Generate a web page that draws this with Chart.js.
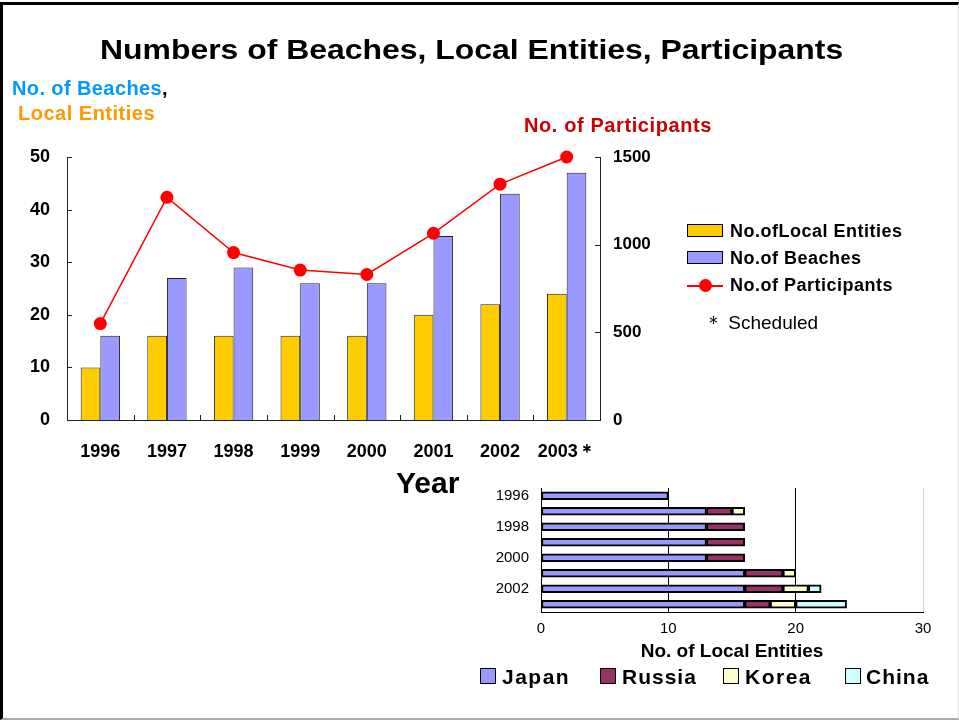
<!DOCTYPE html>
<html>
<head>
<meta charset="utf-8">
<script src="https://cdn.jsdelivr.net/npm/chart.js@4.4.1/dist/chart.umd.min.js"></script>
<style>
  body { margin: 0; background: #fff; font-family: "Liberation Sans", Arial, sans-serif; }
  #frame { position: absolute; left: 0; top: 2px; width: 955px; height: 713px;
           border-left: 3px solid #000; border-top: 3px solid #000;
           border-right: 1px solid #ddd; border-bottom: 2px solid #aaa; }
  .txt { position: absolute; white-space: nowrap; font-weight: bold; line-height: 1; }
  canvas { position: absolute; }
  .box { position: absolute; border: 1px solid #000; }
</style>
</head>
<body>
<div id="frame"></div>
<canvas id="main" width="959" height="480" style="left:0;top:0"></canvas>
<canvas id="inset" width="480" height="190" style="left:470px;top:475px"></canvas>

<div class="txt" style="left:100px;top:36px;font-size:28px;transform:scaleX(1.14);transform-origin:left top">Numbers of Beaches, Local Entities, Participants</div>
<div class="txt" style="left:12px;top:78px;font-size:20px;letter-spacing:0.4px"><span style="color:#0099ff">No. of Beaches</span>,</div>
<div class="txt" style="left:18px;top:103px;font-size:20px;letter-spacing:0.5px;color:#ff9900">Local Entities</div>
<div class="txt" style="left:524px;top:115px;font-size:20px;letter-spacing:0.6px;color:#cc0000">No. of Participants</div>
<div class="txt" style="left:396px;top:468px;font-size:30px">Year</div>

<!-- legend, main chart -->
<div class="box" style="left:687px;top:224px;width:34px;height:11px;background:#ffcc00"></div>
<div class="txt" style="left:730px;top:222px;font-size:18px;letter-spacing:0.5px">No.ofLocal Entities</div>
<div class="box" style="left:687px;top:251px;width:34px;height:11px;background:#9999ff"></div>
<div class="txt" style="left:730px;top:249px;font-size:18px;letter-spacing:0.5px">No.of Beaches</div>
<div style="position:absolute;left:687px;top:285px;width:36px;height:1.5px;background:#ff0000"></div>
<div style="position:absolute;left:699px;top:279px;width:13px;height:13px;border-radius:50%;background:#ff0000"></div>
<div class="txt" style="left:730px;top:276px;font-size:18px;letter-spacing:0.5px">No.of Participants</div>
<div class="txt" style="left:704px;top:313px;font-size:19px;font-weight:normal">＊ Scheduled</div>

<!-- legend, inset -->
<div class="box" style="left:480px;top:668px;width:14px;height:14px;background:#9999ff"></div>
<div class="txt" style="left:502px;top:666px;font-size:21px;letter-spacing:1.5px">Japan</div>
<div class="box" style="left:600px;top:668px;width:14px;height:14px;background:#993366"></div>
<div class="txt" style="left:622px;top:666px;font-size:21px;letter-spacing:1px">Russia</div>
<div class="box" style="left:723px;top:668px;width:14px;height:14px;background:#ffffcc"></div>
<div class="txt" style="left:745px;top:666px;font-size:21px;letter-spacing:1.5px">Korea</div>
<div class="box" style="left:845px;top:668px;width:14px;height:14px;background:#ccffff"></div>
<div class="txt" style="left:866px;top:666px;font-size:21px;letter-spacing:1px">China</div>

<script>
const years = ["1996", "1997", "1998", "1999", "2000", "2001", "2002", "2003＊"];
const localEntities = [10, 16, 16, 16, 16, 20, 22, 24];
const beaches = [16, 27, 29, 26, 26, 35, 43, 47];
const participants = [550, 1270, 955, 855, 830, 1065, 1345, 1500];

const insetYears = ["1996", "1997", "1998", "1999", "2000", "2001", "2002", "2003"];
const japan  = [10, 13, 13, 13, 13, 16, 16, 16];
const russia = [null, 2, 3, 3, 3, 3, 3, 2];
const korea  = [null, 1, null, null, null, 1, 2, 2];
const china  = [null, null, null, null, null, null, 1, 4];

const tickFont = { family: "Liberation Sans", size: 18, weight: "bold" };

// ticks in this chart point into the plot, so draw them ourselves
const innerTicks = {
  id: "innerTicks",
  afterDraw(chart) {
    const ctx = chart.ctx, a = chart.chartArea;
    const x = chart.scales.x, y = chart.scales.y, y1 = chart.scales.y1;
    ctx.save();
    ctx.strokeStyle = "#222";
    ctx.lineWidth = 1;
    ctx.beginPath();
    y.ticks.forEach((t, i) => {
      const p = Math.round(y.getPixelForTick(i)) + 0.5;
      ctx.moveTo(a.left, p); ctx.lineTo(a.left + 5, p);
    });
    y1.ticks.forEach((t, i) => {
      const p = Math.round(y1.getPixelForTick(i)) + 0.5;
      ctx.moveTo(a.right - 5, p); ctx.lineTo(a.right, p);
    });
    for (let i = 1; i < x.ticks.length; i++) {
      const p = Math.round((x.getPixelForTick(i - 1) + x.getPixelForTick(i)) / 2) + 0.5;
      ctx.moveTo(p, a.bottom); ctx.lineTo(p, a.bottom - 5);
    }
    ctx.stroke();
    ctx.restore();
  }
};

new Chart(document.getElementById("main"), {
  type: "bar",
  data: {
    labels: years,
    datasets: [{
      type: "line",
      label: "No.of Participants",
      data: participants,
      yAxisID: "y1",
      borderColor: "#ff0000",
      borderWidth: 1.5,
      pointRadius: 6.5,
      pointBackgroundColor: "#ff0000",
      pointBorderWidth: 0,
      clip: false,
      order: 0
    }, {
      label: "No.ofLocal Entities",
      data: localEntities,
      backgroundColor: "#ffcc00",
      borderColor: "#222",
      borderWidth: 1,
      categoryPercentage: 0.59,
      barPercentage: 1,
      order: 1
    }, {
      label: "No.of Beaches",
      data: beaches,
      backgroundColor: "#9999ff",
      borderColor: "#222",
      borderWidth: 1,
      categoryPercentage: 0.59,
      barPercentage: 1,
      order: 1
    }]
  },
  options: {
    responsive: false,
    animation: false,
    layout: { padding: { top: 157, left: 0, right: 299, bottom: 20 } },
    plugins: { legend: { display: false }, tooltip: { enabled: false } },
    scales: {
      x: {
        grid: { display: false, drawTicks: false },
        border: { color: "#222", width: 1 },
        ticks: { color: "#000", font: tickFont, padding: 21 },
        afterFit: (s) => { s.height = 40; }
      },
      y: {
        min: 0, max: 50,
        ticks: { stepSize: 10, color: "#000", font: tickFont, padding: 17 },
        grid: { display: false, drawTicks: false },
        border: { color: "#222", width: 1 },
        afterFit: (s) => { s.width = 67; }
      },
      y1: {
        position: "right",
        min: 0, max: 1500,
        ticks: {
          stepSize: 500, color: "#000", padding: 13,
          font: { family: "Liberation Sans", size: 17, weight: "bold" },
          callback: (v) => String(v)
        },
        grid: { display: false, drawTicks: false },
        border: { color: "#222", width: 1 },
        afterFit: (s) => { s.width = 60; }
      }
    }
  },
  plugins: [innerTicks]
});

const insetBar = (label, data, color) => ({
  label: label,
  data: data,
  backgroundColor: color,
  borderColor: "#000",
  borderWidth: 2,
  borderSkipped: false,
  barThickness: 8
});

new Chart(document.getElementById("inset"), {
  type: "bar",
  data: {
    labels: insetYears,
    datasets: [
      insetBar("Japan", japan, "#9999ff"),
      insetBar("Russia", russia, "#993366"),
      insetBar("Korea", korea, "#ffffcc"),
      insetBar("China", china, "#ccffff")
    ]
  },
  options: {
    indexAxis: "y",
    responsive: false,
    animation: false,
    layout: { padding: { top: 10, left: 0, right: 27, bottom: 0 } },
    plugins: { legend: { display: false }, tooltip: { enabled: false } },
    scales: {
      x: {
        stacked: true,
        min: 0, max: 30,
        ticks: { stepSize: 10, color: "#000", font: { family: "Liberation Sans", size: 15 }, padding: 8 },
        grid: {
          drawTicks: false,
          color: (c) => (c.tick && c.tick.value === 30 ? "#d0d0d0" : "#000")
        },
        border: { color: "#000", width: 1 },
        title: {
          display: true,
          text: "No. of Local Entities",
          color: "#000",
          font: { family: "Liberation Sans", size: 19, weight: "bold" },
          padding: { top: 0, bottom: 2 }
        },
        afterFit: (s) => { s.height = 53; }
      },
      y: {
        stacked: true,
        grid: { display: false },
        border: { color: "#000", width: 1 },
        ticks: {
          autoSkip: false,
          color: "#000",
          font: { family: "Liberation Sans", size: 15 },
          padding: 4,
          callback: (v, i) => (i % 2 === 0 ? insetYears[i] : "")
        },
        afterFit: (s) => { s.width = 71; }
      }
    }
  }
});
</script>
</body>
</html>
